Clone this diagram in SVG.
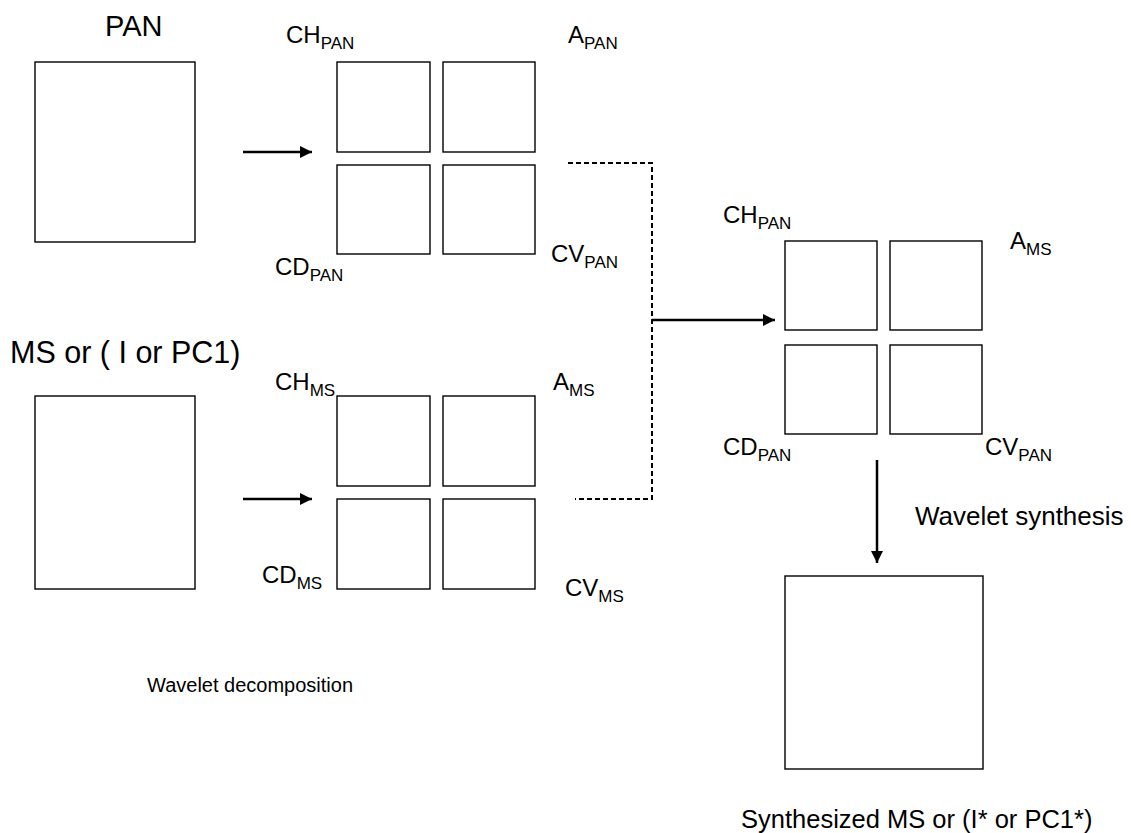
<svg xmlns="http://www.w3.org/2000/svg" width="1131" height="833" viewBox="0 0 1131 833">
<defs>
<style>
.b{fill:#fff;stroke:#000;stroke-width:1.4}
.t{font-family:"Liberation Sans",Arial,sans-serif;fill:#000}
.l{font-size:24px}
.s{font-size:17px}
.h{font-size:29px}
.w{font-size:26px}
.c{stroke:#000;stroke-width:2.5;fill:none}
.d{stroke:#000;stroke-width:2;fill:none;stroke-dasharray:5,3}
</style>
<marker id="ah" viewBox="0 0 10 10" refX="10" refY="5" markerWidth="5" markerHeight="5" markerUnits="strokeWidth" orient="auto"><path d="M0,0L10,5L0,10z" fill="#000"/></marker>
</defs>
<rect width="1131" height="833" fill="#fff"/>
<g id="pan-input">
<text class="t h" x="105" y="36">PAN</text>
<rect class="b" x="35" y="62" width="160" height="180"/>
</g>
<g id="pan-decomp">
<rect class="b" x="337" y="62" width="93" height="90"/>
<rect class="b" x="443" y="62" width="92" height="90"/>
<rect class="b" x="337" y="165" width="93" height="89"/>
<rect class="b" x="443" y="165" width="92" height="89"/>
<text class="t l" x="286" y="43">CH<tspan class="s" dy="6">PAN</tspan></text>
<text class="t l" x="568" y="43">A<tspan class="s" dy="6">PAN</tspan></text>
<text class="t l" x="275" y="275">CD<tspan class="s" dy="6">PAN</tspan></text>
<text class="t l" x="551" y="262">CV<tspan class="s" dy="6">PAN</tspan></text>
</g>
<g id="ms-input">
<text class="t" style="font-size:30.5px" x="10" y="363">MS or ( I or PC1)</text>
<rect class="b" x="35" y="396" width="160" height="193"/>
</g>
<g id="ms-decomp">
<rect class="b" x="337" y="396" width="93" height="90"/>
<rect class="b" x="443" y="396" width="92" height="90"/>
<rect class="b" x="337" y="499" width="93" height="90"/>
<rect class="b" x="443" y="499" width="92" height="90"/>
<text class="t l" x="275" y="390">CH<tspan class="s" dy="6">MS</tspan></text>
<text class="t l" x="553" y="390">A<tspan class="s" dy="6">MS</tspan></text>
<text class="t l" x="262" y="583">CD<tspan class="s" dy="6">MS</tspan></text>
<text class="t l" x="565" y="596">CV<tspan class="s" dy="6">MS</tspan></text>
</g>
<g id="fused">
<rect class="b" x="785" y="241" width="92" height="89"/>
<rect class="b" x="890" y="241" width="92" height="89"/>
<rect class="b" x="785" y="345" width="92" height="89"/>
<rect class="b" x="890" y="345" width="92" height="89"/>
<text class="t l" x="723" y="223">CH<tspan class="s" dy="6">PAN</tspan></text>
<text class="t l" x="1010" y="249">A<tspan class="s" dy="6">MS</tspan></text>
<text class="t l" x="723" y="455">CD<tspan class="s" dy="6">PAN</tspan></text>
<text class="t l" x="985" y="455">CV<tspan class="s" dy="6">PAN</tspan></text>
</g>
<g id="output">
<rect class="b" x="785" y="576" width="198" height="193"/>
<text class="t" style="font-size:25.5px" x="741" y="828">Synthesized MS or (I* or PC1*)</text>
</g>
<g id="labels">
<text class="t" style="font-size:20px" x="147" y="692">Wavelet decomposition</text>
<text class="t w" x="915" y="525">Wavelet synthesis</text>
</g>
<g id="connectors">
<line class="c" x1="243" y1="152" x2="312" y2="152" marker-end="url(#ah)"/>
<line class="c" x1="243" y1="499" x2="312" y2="499" marker-end="url(#ah)"/>
<polyline class="d" points="568,163 652,163 652,499 575,499"/>
<line class="c" x1="652" y1="320" x2="775" y2="320" marker-end="url(#ah)"/>
<line class="c" x1="877" y1="460" x2="877" y2="563" marker-end="url(#ah)"/>
</g>
</svg>
